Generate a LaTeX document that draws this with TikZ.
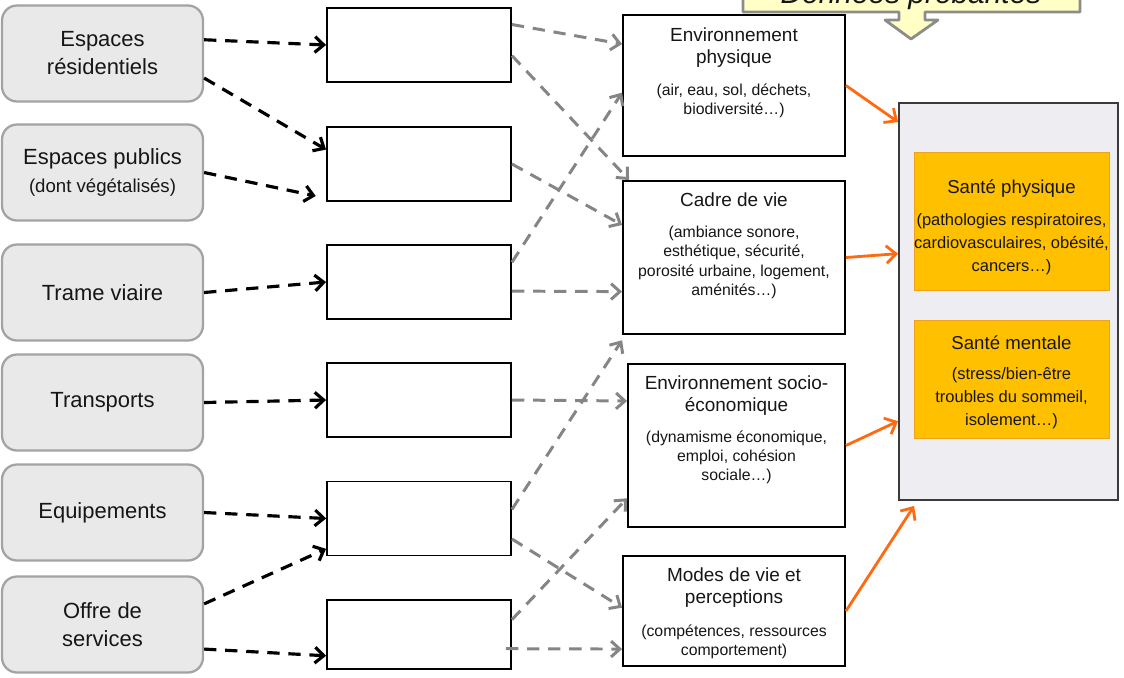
\documentclass[tikz,border=0pt]{standalone}
\usepackage{fontspec}
\setmainfont{Liberation Sans}
\usetikzlibrary{arrows.meta,positioning,calc}
\definecolor{lieuFond}{HTML}{E9E9E9}
\definecolor{lieuBord}{HTML}{A3A3A3}
\definecolor{texte}{HTML}{161616}
\definecolor{gris}{HTML}{858585}
\definecolor{orangeF}{HTML}{FF6A10}
\definecolor{santeFond}{HTML}{FFC000}
\definecolor{santeBord}{HTML}{F2A020}
\definecolor{blocFond}{HTML}{EEEEF2}
\definecolor{blocBord}{HTML}{3A3A3A}
\definecolor{bulleFond}{HTML}{FFFFC6}
\definecolor{bulleBord}{HTML}{8C8C8C}
\newcommand{\moyen}{\fontsize{10.6}{13}\selectfont}
\tikzset{
  lieu/.style={draw=lieuBord, fill=lieuFond, line width=1.3pt, rounded corners=8.5pt,
    minimum width=4.02cm, minimum height=1.92cm, inner sep=0pt, align=center,
    text=texte, font=\fontsize{12.5}{15.9}\selectfont},
  vide/.style={draw=black, line width=1.1pt, minimum width=3.68cm, minimum height=1.48cm, inner sep=0pt},
  cadre/.style={draw=black, line width=1.1pt, inner sep=0pt},
  titre/.style={inner sep=0pt, align=center, text=texte, font=\fontsize{10.8}{12.5}\selectfont},
  detail/.style={inner sep=0pt, align=center, text=texte, font=\fontsize{9}{11}\selectfont},
  bloc/.style={draw=blocBord, fill=blocFond, line width=1.1pt, inner sep=0pt},
  santeB/.style={draw=santeBord, fill=santeFond, line width=0.5pt, inner sep=0pt,
    minimum width=3.9cm},
  stitre/.style={inner sep=0pt, align=center, text=texte, font=\fontsize{10.6}{13}\selectfont},
  sdetail/.style={inner sep=0pt, align=center, text=texte, font=\fontsize{9.4}{13}\selectfont},
  flecheN/.style={draw=black, line width=1.8pt, dash pattern=on 7pt off 5pt,
    -{Straight Barb[length=5pt,width=9pt]}},
  flecheG/.style={draw=gris, line width=1.7pt, dash pattern=on 7pt off 5pt,
    -{Straight Barb[length=5pt,width=9pt]}},
  flecheO/.style={draw=orangeF, line width=1.6pt, -{Straight Barb[length=5.5pt,width=10pt]}}
}
\begin{document}
\begin{tikzpicture}[x=0.02cm,y=-0.02cm]
\useasboundingbox (0,0) rectangle (1124,677);
\clip (0,0) rectangle (1124,677);

% bulle du haut
\draw[draw=bulleBord, fill=bulleFond, line width=1.6pt, line join=round]
  (743,-50) -- (1080,-50) -- (1080,12) -- (925,12) -- (925,20) -- (938,20) -- (911,39)
  -- (885,20) -- (899,20) -- (899,12) -- (743,12) -- cycle;
\node[anchor=base, text=texte, font=\fontsize{17}{20}\selectfont\itshape] (donnees) at (911,3) {Données probantes};

% colonne de gauche
\node[lieu] (esRes) at (102.5,53.5) {Espaces\\résidentiels};
\node[lieu] (esPub) at (102.5,172.5) {Espaces publics\\{\moyen (dont végétalisés)}};
\node[lieu] (trame) at (102.5,292.5) {Trame viaire};
\node[lieu] (transp) at (102.5,402.5) {Transports};
\node[lieu] (equip) at (102.5,512.5) {Equipements};
\node[lieu] (offre) at (102.5,624.5) {Offre de\\services};

% cases vides
\node[vide] (v1) at (419,45) {};
\node[vide] (v2) at (419,164) {};
\node[vide] (v3) at (419,282) {};
\node[vide] (v4) at (419,400) {};
\node[vide] (v5) at (419,518.5) {};
\node[vide, minimum height=1.38cm] (v6) at (419,634.5) {};

% determinants
\node[cadre, minimum width=4.44cm, minimum height=2.82cm] (envPhy) at (734,85.5) {};
\node[titre, below=7.4pt of envPhy.north] (envPhyT) {Environnement\\physique};
\node[detail, below=9pt of envPhyT] (envPhyD) {(air, eau, sol, déchets,\\biodiversité…)};

\node[cadre, minimum width=4.44cm, minimum height=3.06cm] (cadreVie) at (734,257.5) {};
\node[titre, below=6.8pt of cadreVie.north] (cadreVieT) {Cadre de vie};
\node[detail, below=10.8pt of cadreVieT] (cadreVieD) {(ambiance sonore,\\esthétique, sécurité,\\porosité urbaine, logement,\\aménités…)};

\node[cadre, minimum width=4.34cm, minimum height=3.26cm] (envSoc) at (736.5,445.5) {};
\node[titre, below=6.8pt of envSoc.north] (envSocT) {Environnement socio-\\économique};
\node[detail, below=8.5pt of envSocT] (envSocD) {(dynamisme économique,\\emploi, cohésion\\sociale…)};

\node[cadre, minimum width=4.44cm, minimum height=2.2cm] (modes) at (734,611) {};
\node[titre, below=6.8pt of modes.north] (modesT) {Modes de vie et\\perceptions};
\node[detail, below=9.6pt of modesT] (modesD) {(compétences, ressources\\comportement)};

% sante
\node[bloc, minimum width=4.38cm, minimum height=7.94cm] (sante) at (1008.5,301.5) {};
\node[santeB, minimum height=2.76cm] (sPhy) at (1011.5,221) {};
\node[stitre, below=15.9pt of sPhy.north] (sPhyT) {Santé physique};
\node[sdetail, below=9pt of sPhyT] (sPhyD) {(pathologies respiratoires,\\cardiovasculaires, obésité,\\cancers…)};
\node[santeB, minimum height=2.36cm] (sMen) at (1011.5,379) {};
\node[stitre, below=9pt of sMen.north] (sMenT) {Santé mentale};
\node[sdetail, below=10pt of sMenT] (sMenD) {(stress/bien-être\\troubles du sommeil,\\isolement…)};

% liens noirs
\draw[flecheN] ($(esRes.north east)!0.36!(esRes.south east)$) -- (v1.west);
\draw[flecheN] ($(esRes.north east)!0.75!(esRes.south east)$) -- ($(v2.north west)!0.31!(v2.south west)$);
\draw[flecheN, shorten >=6pt] (esPub.east) -- ($(v2.north west)!0.95!(v2.south west)$);
\draw[flecheN] (trame.east) -- (v3.west);
\draw[flecheN] (transp.east) -- (v4.west);
\draw[flecheN] (equip.east) -- (v5.west);
\draw[flecheN] ($(offre.north east)!0.29!(offre.south east)$) -- ($(v5.north west)!0.9!(v5.south west)$);
\draw[flecheN] ($(offre.north east)!0.75!(offre.south east)$) -- ($(v6.north west)!0.8!(v6.south west)$);

% liens gris
\draw[flecheG] ($(v1.north east)!0.23!(v1.south east)$) -- ($(envPhy.north west)!0.21!(envPhy.south west)$);
\draw[flecheG] ($(v1.north east)!0.64!(v1.south east)$) -- ([xshift=4pt]cadreVie.north west);
\draw[flecheG] (v2.east) -- ($(cadreVie.north west)!0.29!(cadreVie.south west)$);
\draw[flecheG] ($(v3.north east)!0.24!(v3.south east)$) -- ($(envPhy.north west)!0.55!(envPhy.south west)$);
\draw[flecheG] ($(v3.north east)!0.62!(v3.south east)$) -- ($(cadreVie.north west)!0.72!(cadreVie.south west)$);
\draw[flecheG] (v4.east) -- ($(envSoc.north west)!0.23!(envSoc.south west)$);
\draw[flecheG] ($(v5.north east)!0.38!(v5.south east)$) -- ([yshift=-3pt]cadreVie.south west);
\draw[flecheG] ($(v5.north east)!0.77!(v5.south east)$) -- ($(modes.north west)!0.47!(modes.south west)$);
\draw[flecheG] ($(v6.north east)!0.29!(v6.south east)$) -- ($(envSoc.north west)!0.82!(envSoc.south west)$);
\draw[flecheG] ($(v6.north east)!0.7!(v6.south east)+(-6,0)$) -- ($(modes.north west)!0.84!(modes.south west)$);

% liens orange
\draw[flecheO] (envPhy.east) -- ($(sante.north west)!0.05!(sante.south west)$);
\draw[flecheO] (cadreVie.east) -- ($(sante.north west)!0.38!(sante.south west)$);
\draw[flecheO] (envSoc.east) -- ($(sante.north west)!0.8!(sante.south west)$);
\draw[flecheO] (modes.east) -- ($(sante.south west)+(16,5)$);
\end{tikzpicture}
\end{document}
